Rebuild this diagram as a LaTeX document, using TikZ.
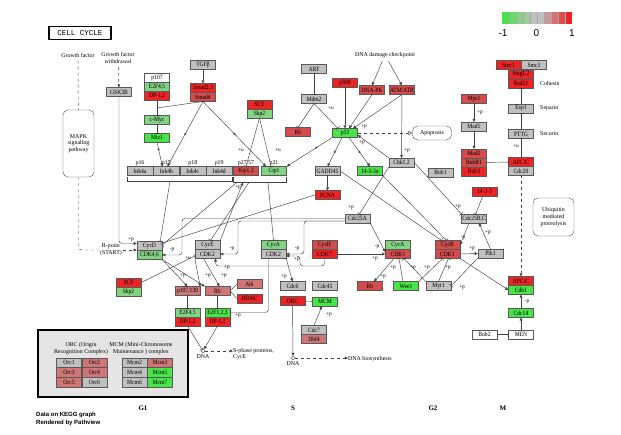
\documentclass[tikz,border=0pt]{standalone}
\usepackage{fontspec}
\setmainfont{Liberation Serif}
\setmonofont{Liberation Mono}
\newfontfamily\pvfont{Liberation Sans}
\newfontfamily\genefam[FakeStretch=0.86]{Liberation Serif}
\usetikzlibrary{positioning,arrows.meta,calc}
\definecolor{hiR}{RGB}{238,36,36}
\definecolor{mdR}{RGB}{212,76,76}
\definecolor{loR}{RGB}{208,118,118}
\definecolor{gry}{RGB}{192,192,192}
\definecolor{loG}{RGB}{130,212,130}
\definecolor{hiG}{RGB}{72,228,72}
\newcommand{\gfont}{\genefam\fontsize{6.5}{7}\selectfont}
\newcommand{\tfont}{\fontsize{5.9}{6.8}\selectfont}
\begin{document}
\begin{tikzpicture}[x=1pt, y=-1pt, font=\tfont,
    gene/.style={draw=black!65, minimum width=25pt, minimum height=8.6pt, inner sep=0pt, font=\gfont},
    ink/.style={gene, minimum width=26pt, fill=gry},
    orcbox/.style={gene, minimum height=9.5pt},
    roundbox/.style={draw=black!70, rounded corners=5pt, align=center},
    ln/.style={draw=black!75, line width=0.45pt},
    arr/.style={ln, -{Triangle[length=3.2pt,width=2.8pt]}},
    inh/.style={ln, -{Bar[width=5pt]}},
    oarr/.style={ln, dashed, -{Triangle[open,length=4pt,width=4pt]}},
    lab/.style={font=\fontsize{5.3}{5.3}\selectfont, inner sep=0pt},
    dotm/.style={circle, fill=black!75, inner sep=0pt, minimum size=2.2pt},
    dnac/.style={draw=black!75, circle, inner sep=0pt, minimum size=3.6pt, fill=white},
    phase/.style={font=\bfseries\fontsize{7}{7}\selectfont}]
\fill[white] (0,0) rectangle (621,435);
\useasboundingbox (0,0) rectangle (621,435);

\node (title) at (80,33) [draw, line width=1.3pt, minimum width=62pt, minimum height=13pt, inner sep=0pt, font=\ttfamily\fontsize{7.5}{8}\selectfont] {CELL CYCLE};

\fill[hiG] (502,12) rectangle (509,24);
\fill[hiG!75!gry] (509,12) rectangle (516,24);
\fill[hiG!50!gry] (516,12) rectangle (523,24);
\fill[hiG!25!gry] (523,12) rectangle (530,24);
\fill[gry] (530,12) rectangle (544,24);
\fill[hiR!25!gry] (544,12) rectangle (551,24);
\fill[hiR!50!gry] (551,12) rectangle (558,24);
\fill[hiR!75!gry] (558,12) rectangle (565,24);
\fill[hiR] (565,12) rectangle (572,24);
\draw[black!35, line width=0.3pt] (509,12) -- (509,24) (516,12) -- (516,24) (523,12) -- (523,24) (530,12) -- (530,24) (537,12) -- (537,24) (544,12) -- (544,24) (551,12) -- (551,24) (558,12) -- (558,24) (565,12) -- (565,24);
\node (lgm) at (503,33) [font=\pvfont\fontsize{10}{10}\selectfont] {-1};
\node (lgz) at (536.5,33) [font=\pvfont\fontsize{10}{10}\selectfont] {0};
\node (lgp) at (572,33) [font=\pvfont\fontsize{10}{10}\selectfont] {1};

\node (gf) at (78,55) {Growth factor};
\node (gfw) at (118,58) [align=center] {Growth factor\\withdrawal};
\node (gsk3b) at (119,92) [gene, fill=gry] {GSK3B};
\node (mapk) at (78.5,143.5) [roundbox, minimum width=31pt, minimum height=67pt] {MAPK\\signaling\\pathway};
\node (rpoint) at (111,250) [fill=white, inner sep=0.5pt, align=center] {R-point\\(START)};

\node (p107) at (157,78) [gene, fill=white] {p107};
\node (e2f45a) [gene, fill=loG, below=0pt of p107] {E2F4,5};
\node (dp12a) [gene, fill=hiR, below=0pt of e2f45a] {DP-1,2};
\node (cmyc) at (157,120) [gene, fill=loG] {c-Myc};
\node (miz1) at (157,137.5) [gene, fill=hiG] {Miz1};
\node (tgfb) at (203,65) [gene, fill=gry] {TGFβ};
\node (smad23) at (203,88) [gene, fill=hiR] {Smad2,3};
\node (smad4) [gene, fill=mdR, below=0pt of smad23] {Smad4};
\node (scf1) at (259.5,104.5) [gene, fill=hiR] {SCF};
\node (skp2a) [gene, fill=loG, below=0pt of scf1] {Skp2};
\node (rb1) at (298,132) [gene, fill=mdR] {Rb};
\node (arf) at (314,69) [gene, fill=gry] {ARF};
\node (mdm2) at (314,99) [gene, fill=gry] {Mdm2};
\node (p300) at (345,83) [gene, fill=hiR] {p300};
\node (dnapk) at (372,90) [gene, fill=mdR] {DNA-PK};
\node (atm) at (402,90) [gene, fill=mdR] {ATM/ATR};
\node (ddc) at (385,55) {DNA damage checkpoint};
\node (p53) at (345,133) [gene, fill=hiG] {p53};
\node (apop) at (432,133) [roundbox, minimum width=39pt, minimum height=14pt] {Apoptosis};

\node (smc1) at (508.5,65) [gene, fill=hiR] {Smc1};
\node (smc3) [gene, fill=gry, right=0pt of smc1] {Smc3};
\node (stag) at (521,74.5) [gene, fill=hiR] {Stag1,2};
\node (rad21) [gene, fill=hiR, below=0pt of stag] {Rad21};
\node (cohlbl) [right=3pt of rad21] {Cohesin};
\node (esp1) at (521,108.5) [gene, fill=gry] {Esp1};
\node (seplbl) [right=3pt of esp1] {Separin};
\node (pttg) at (521,134) [gene, fill=gry] {PTTG};
\node (seclbl) [right=3pt of pttg] {Securin};
\node (mps1) at (474,99) [gene, fill=mdR] {Mps1};
\node (mad1) at (474,126.5) [gene, fill=gry] {Mad1};
\node (mad2) at (474,153.5) [gene, fill=mdR] {Mad2};
\node (bubr1) [gene, fill=mdR, below=0pt of mad2] {BubR1};
\node (bub3) [gene, fill=hiR, below=0pt of bubr1] {Bub3};
\node (apcc1) at (521,162) [gene, fill=hiR] {APC/C};
\node (cdc20) [gene, fill=gry, below=0pt of apcc1] {Cdc20};
\node (ubq) at (553.5,217) [roundbox, minimum width=41pt, minimum height=38pt] {Ubiquitin\\mediated\\proteolysis};
\node (s1433r) at (484.5,191.5) [gene, fill=hiR] {14-3-3};
\node (cdc25bc) at (474,218.5) [gene, fill=gry] {Cdc25B,C};
\node (plk1) at (490.5,253.5) [gene, fill=gry] {Plk1};
\node (apcc2) at (521,281) [gene, fill=hiR] {APC/C};
\node (cdh1) [gene, fill=hiG, below=0pt of apcc2] {Cdh1};
\node (cdc14) at (521,313) [gene, fill=hiG] {Cdc14};
\node (men) at (521,334.5) [gene, fill=white] {MEN};
\node (bub2) at (484.5,334.5) [gene, fill=white] {Bub2};

\node (ink4a) at (140,171) [ink] {Ink4a};
\node (ink4b) [ink, right=0pt of ink4a] {Ink4b};
\node (ink4c) [ink, right=0pt of ink4b] {Ink4c};
\node (ink4d) [ink, right=0pt of ink4c] {Ink4d};
\node (l16) [above=0pt of ink4a, inner sep=0.5pt] {p16};
\node (l15) [above=0pt of ink4b, inner sep=0.5pt] {p15};
\node (l18) [above=0pt of ink4c, inner sep=0.5pt] {p18};
\node (l19) [above=0pt of ink4d, inner sep=0.5pt] {p19};
\node (kip12) at (246,171) [gene, fill=mdR] {Kip1,2};
\node (cip1) at (274,171) [gene, fill=loG] {Cip1};
\node (l27) [above=0pt of kip12, inner sep=0.5pt] {p27,57};
\node (l21) [above=0pt of cip1, inner sep=0.5pt] {p21};
\node (gadd45) at (327.5,171) [gene, fill=gry] {GADD45};
\node (pcna) at (327.5,195) [gene, fill=hiR] {PCNA};
\node (s1433g) at (370,171) [gene, fill=hiG] {14-3-3σ};
\node (chk12) at (401.5,162.5) [gene, fill=gry] {Chk1,2};
\node (bub1) at (440.5,172.5) [gene, fill=gry] {Bub1};
\node (cdc25a) at (357.5,218.5) [gene, fill=gry] {Cdc25A};

\node (cycd) at (149.5,246) [gene, fill=gry] {CycD};
\node (cdk46) [gene, fill=loG, below=0pt of cycd] {CDK4,6};
\node (cyce) at (207.5,245) [gene, fill=gry] {CycE};
\node (cdk2a) [gene, fill=gry, below=0pt of cyce] {CDK2};
\node (cyca1) at (273.5,245) [gene, fill=loG] {CycA};
\node (cdk2b) [gene, fill=gry, below=0pt of cyca1] {CDK2};
\node (cych) at (324.5,245) [gene, fill=mdR] {CycH};
\node (cdk7) [gene, fill=hiR, below=0pt of cych] {CDK7};
\node (cyca2) at (398,245) [gene, fill=loG] {CycA};
\node (cdk1a) [gene, fill=mdR, below=0pt of cyca2] {CDK1};
\node (cycb) at (447.5,245) [gene, fill=mdR] {CycB};
\node (cdk1b) [gene, fill=mdR, below=0pt of cycb] {CDK1};

\node (scf2) at (128.5,282.5) [gene, fill=hiR] {SCF};
\node (skp2b) [gene, fill=loG, below=0pt of scf2] {Skp2};
\node (p107130) at (187.5,291) [gene, fill=loR] {p107,130};
\node (rb2) at (217.5,291) [gene, fill=loR] {Rb};
\node (abl) at (249.5,284) [gene, fill=loR] {Abl};
\node (hdac) at (249.5,298.5) [gene, fill=hiR] {HDAC};
\node (e2f45b) at (187.5,312.5) [gene, fill=loG] {E2F4,5};
\node (dp12b) [gene, fill=hiR, below=0pt of e2f45b] {DP-1,2};
\node (e2f123) at (217.5,312.5) [gene, fill=hiG] {E2F1,2,3};
\node (dp12c) [gene, fill=hiR, below=0pt of e2f123] {DP-1,2};
\node (dna1) at (203,351) [dnac] {};
\node (dnal1) [below=0.5pt of dna1, inner sep=0.5pt] {DNA};
\node (sphase) at (233,354) [anchor=west, align=left, inner sep=0pt] {S-phase proteins,\\CycE};
\node (cdc6) at (292.5,286) [gene, fill=gry] {Cdc6};
\node (orc) at (292.5,301) [gene, fill=hiR] {ORC};
\node (cdc45) at (325,286) [gene, fill=gry] {Cdc45};
\node (mcm) at (325,301.5) [gene, fill=hiG] {MCM};
\node (cdc7) at (314,330) [gene, fill=gry] {Cdc7};
\node (dbf4) [gene, fill=loR, below=0pt of cdc7] {Dbf4};
\node (dna2) at (293,358) [dnac] {};
\node (dnal2) [below=0.5pt of dna2, inner sep=0.5pt] {DNA};
\node (dnabio) at (348,359) [anchor=west, inner sep=0pt] {DNA biosynthesis};
\node (rb3) at (370,286) [gene, fill=mdR] {Rb};
\node (wee1) at (406,286) [gene, fill=hiG] {Wee1};
\node (myt1) at (438.5,286) [gene, fill=gry] {Myt1};

\node (orcmcm) at (113,363.5) [draw, line width=1.1pt, fill=black!10, minimum width=150pt, minimum height=67pt] {};
\node (orclbl) at (81,348.5) [align=center] {ORC (Origin\\Recognition Complex)};
\node (mcmlbl) at (141,348.5) [align=center] {MCM (Mini-Chromosome\\Maintenance ) complex};
\node (orc1) at (69,362.5) [orcbox, fill=gry] {Orc1};
\node (orc2) [orcbox, fill=loR, right=0pt of orc1] {Orc2};
\node (orc3) [orcbox, fill=loR, below=0pt of orc1] {Orc3};
\node (orc4) [orcbox, fill=loR, right=0pt of orc3] {Orc4};
\node (orc5) [orcbox, fill=loR, below=0pt of orc3] {Orc5};
\node (orc6) [orcbox, fill=gry, right=0pt of orc5] {Orc6};
\node (mcm2) at (134.5,362.5) [orcbox, fill=gry] {Mcm2};
\node (mcm3) [orcbox, fill=loR, right=0pt of mcm2] {Mcm3};
\node (mcm4) [orcbox, fill=gry, below=0pt of mcm2] {Mcm4};
\node (mcm5) [orcbox, fill=hiG, right=0pt of mcm4] {Mcm5};
\node (mcm6) [orcbox, fill=gry, below=0pt of mcm4] {Mcm6};
\node (mcm7) [orcbox, fill=hiG, right=0pt of mcm6] {Mcm7};

\node (g1) at (143,408) [phase] {G1};
\node (sph) at (293,408) [phase] {S};
\node (g2) at (433,408) [phase] {G2};
\node (mph) at (503,408) [phase] {M};
\node (pv) at (36,419) [anchor=west, align=left, inner sep=0pt, font=\pvfont\bfseries\fontsize{6}{8.5}\selectfont] {Data on KEGG graph\\Rendered by Pathview};

\draw[ln, dashed] (gf) -- (mapk);
\draw[arr, dashed] (gfw) -- (gsk3b);
\draw[arr, rounded corners=3pt] (gsk3b) |- ([yshift=2.5pt]cycd.west);
\draw[ln, dashed, rounded corners=3pt] (mapk) |- (rpoint);
\draw[arr, dashed] (rpoint) -- (rpoint -| cycd.west);
\draw[arr] (tgfb) -- (smad23);
\draw[inh] (dp12a) -- (cmyc);
\coordinate (j1) at ($(dp12a.south)!0.5!(cmyc.north)$);
\draw[ln] (smad4.south) -- (j1);
\draw[inh] (cmyc) -- (miz1);
\draw[arr] (miz1.south) -- ([xshift=-4pt]ink4b.north) node[pos=0.3, dotm] (d1) {};
\draw[arr] (smad4.south) -- ([xshift=1pt]ink4b.north) node[pos=0.5, dotm] (d2) {};
\draw[arr] (smad4.south) -- ([xshift=-8pt]cip1.north) node[pos=0.5, dotm] (d3) {};
\draw[inh] (skp2a.south) -- (kip12.north);
\draw[inh] (skp2a.south) -- ([xshift=-3pt]cip1.north);
\draw[inh] (arf) -- (mdm2);
\draw[inh] (mdm2.south) -- (rb1.north);
\draw[inh] (mdm2.south) -- ([xshift=-7pt]p53.north);
\draw[arr] (p300) -- (p53);
\draw[arr] (dnapk.south) -- ([xshift=4pt]p53.north);
\draw[arr] (atm.south) -- ([xshift=8pt]p53.north);
\draw[arr] (ddc) -- (dnapk.north);
\draw[arr] (ddc) -- (atm.north);
\draw[arr] (atm) -- (chk12);
\draw[arr] (chk12.north west) -- ([yshift=-2pt]p53.east);
\draw[oarr] (p53) -- (apop);
\draw[arr] (p53.south west) -- (cip1.north east) node[pos=0.35, dotm] (d4) {};
\draw[arr] ([xshift=-3pt]p53.south) -- (gadd45.north) node[pos=0.5, dotm] (d5) {};
\draw[arr] ([xshift=4pt]p53.south) -- (s1433g.north) node[pos=0.5, dotm] (d6) {};
\draw[arr] (gadd45) -- (pcna);
\draw[inh] (gadd45.east) -- ([xshift=-6pt]cycb.north);
\draw[inh] (s1433g.south east) -- ([xshift=-1pt]cycb.north);
\draw[inh] (chk12.south west) -- ([xshift=2pt]cdc25a.north);
\draw[inh] (chk12.east) -- (cdc25bc.north west);
\draw[inh] (s1433r) -- (cdc25bc);
\draw[arr] (plk1.north) -- ([xshift=5pt]cdc25bc.south);
\draw[arr] ([xshift=-5pt]cdc25bc.south) -- (cycb.east);
\draw[arr] (cdk1b.east) -- (plk1.west);
\draw[inh] (plk1.south west) -- (myt1.east);
\draw[arr] (cdk1b.south east) -- (cdh1.west);
\draw[arr] (mps1) -- (mad1);
\draw[arr] (mad1) -- (mad2);
\draw[inh] (bubr1) -- (apcc1);
\draw[inh] (apcc1) -- (pttg);
\draw[inh] (pttg) -- (esp1);
\draw[inh] (esp1) -- (rad21);
\draw[arr, dashed] (cdc20) -- (apcc2);
\draw[arr] (men) -- (cdc14);
\draw[arr] (cdc14) -- (cdh1);
\draw[inh] (bub2) -- (men);

\draw[ln] ([yshift=-1.5pt]ink4a.south west) -- ([yshift=-6pt]ink4a.south west) -- ([yshift=-6pt]ink4d.south east) -- ([yshift=-1.5pt]ink4d.south east);
\draw[ln] ([yshift=-1.5pt]kip12.south west) -- ([yshift=-7pt]kip12.south west) -- ([yshift=-7pt]cip1.south east) -- ([yshift=-1.5pt]cip1.south east);
\coordinate (ib) at (170,181.3);
\coordinate (kb1) at (237,182.3);
\coordinate (kb2) at (249,182.3);
\coordinate (kb3) at (268,182.3);
\coordinate (kb4) at (243,182.3);
\draw[inh] (ib) -- ([xshift=-2pt]cycd.north east);
\draw[inh] (kb1) -- ([yshift=1pt]cycd.east);
\draw[inh] (kb2) -- ([xshift=3pt]cyce.north);
\draw[inh] (kb3) -- (cyca1.north);
\draw[arr] (cyce.north east) -- (kb4);
\draw[ln] (pcna.west) -- ([yshift=3pt]cycd.east);

\coordinate (r1) at (182,218.5);
\coordinate (r2) at (238,221);
\coordinate (r3) at (304,221);
\coordinate (r4) at (300,266);
\draw[arr, rounded corners=3pt] (cdc25a.west) -- (r1) |- (cdk46.east);
\draw[arr, rounded corners=3pt] ([yshift=-2.5pt]cdc25a.west) -- (r2) |- (cdk2a.east);
\draw[arr, rounded corners=3pt] ([yshift=-2.5pt]cdc25a.west) -- (r3) |- (cdk2b.east);
\draw[arr] (cdc25a.south east) -- ([yshift=2pt]cdk1a.west);
\draw[arr] (cdk7) -- (cdk1a);
\draw[arr, rounded corners=3pt] (cdk7.south) |- (r4) |- ([yshift=-2pt]cdk2b.east);
\draw[arr, rounded corners=3pt] (r4) -| ([xshift=8pt]cdk2a.south);
\draw[inh, rounded corners=3pt] ([xshift=-5pt]cdk2b.south) |- (e2f123.east);
\draw[arr] (cdk2b.south east) -- (cdc6.north);

\draw[arr] (cdk46.south east) -- (p107130.north);
\draw[arr] (cdk46.south east) -- (rb2.north west);
\draw[arr] ([xshift=-4pt]cdk2a.south) -- ([xshift=2pt]rb2.north);
\draw[arr] (cdk2a.south west) -- (p107130.north east);
\draw[inh] (scf2.east) -- ([yshift=-2pt]cdk2a.west);
\draw[ln] (rb2.east) -- (abl.west);
\draw[ln] (rb2.east) -- (hdac.west);
\draw[inh] (p107130) -- (e2f45b);
\draw[inh] (rb2) -- (e2f123);
\draw[inh] (dp12b.south) -- (dna1);
\draw[arr] (dp12c.south) -- (dna1);
\draw[arr, dashed] (dna1) -- (dna1 -| sphase.west);
\draw[arr] (orc) -- (dna2);
\draw[ln] (orc) -- (mcm);
\draw[arr] (cdc7.north) -- ([xshift=-3pt]mcm.south);
\draw[arr, dashed] (dna2) -- (dna2 -| dnabio.west);

\draw[arr] ([xshift=-4pt]cdk1a.south) -- ([xshift=4pt]rb3.north);
\draw[inh] ([xshift=-3pt]wee1.north) -- ([xshift=1pt]cdk1a.south);
\draw[inh] (wee1.north east) -- ([xshift=-5pt]cdk1b.south);
\draw[inh] (myt1.north west) -- ([xshift=6pt]cdk1a.south);
\draw[inh] (myt1.north) -- ([xshift=1pt]cdk1b.south);

\node (lp1) at (131,240) [lab] {+p};
\node (lp2) at (241,150) [lab] {+u};
\node (lp3) at (278,150) [lab] {+u};
\node (lp4) at (331,108) [lab] {+u};
\node (lp5) at (364,127) [lab] {+p};
\node (lp6) at (362,143) [lab] {+p};
\node (lp7) at (407,151) [lab] {+p};
\node (lp8) at (351,208) [lab] {+p};
\node (lp9) at (458,207) [lab] {+p};
\node (lp10) at (488,233) [lab] {+p};
\node (lp11) at (463,238) [lab] {-p};
\node (lp12) at (472,249) [lab] {+p};
\node (lp13) at (462,288) [lab] {+p};
\node (lp14) at (516,146) [lab] {+u};
\node (lp15) at (480,113) [lab] {+p};
\node (lp16) at (527,302) [lab] {-p};
\node (lp17) at (172,250) [lab] {-p};
\node (lp18) at (232,249) [lab] {-p};
\node (lp19) at (297,249) [lab] {-p};
\node (lp20) at (297,260) [lab] {+p};
\node (lp21) at (227,268) [lab] {+p};
\node (lp22) at (377,247) [lab] {-p};
\node (lp23) at (375,259) [lab] {+p};
\node (lp24) at (238,188) [lab] {+p};
\node (lp25) at (188,258) [lab] {+u};
\node (lp26) at (183,276) [lab] {+p};
\node (lp27) at (208,276) [lab] {+p};
\node (lp28) at (224,276) [lab] {+p};
\node (lp29) at (238,316) [lab] {+p};
\node (lp30) at (284,277) [lab] {+p};
\node (lp31) at (329,315) [lab] {+p};
\node (lp32) at (383,277) [lab] {+p};
\node (lp33) at (393,268) [lab] {+p};
\node (lp34) at (413,268) [lab] {+p};
\node (lp35) at (427,268) [lab] {+p};
\node (lp36) at (448,268) [lab] {+p};
\end{tikzpicture}
\end{document}
